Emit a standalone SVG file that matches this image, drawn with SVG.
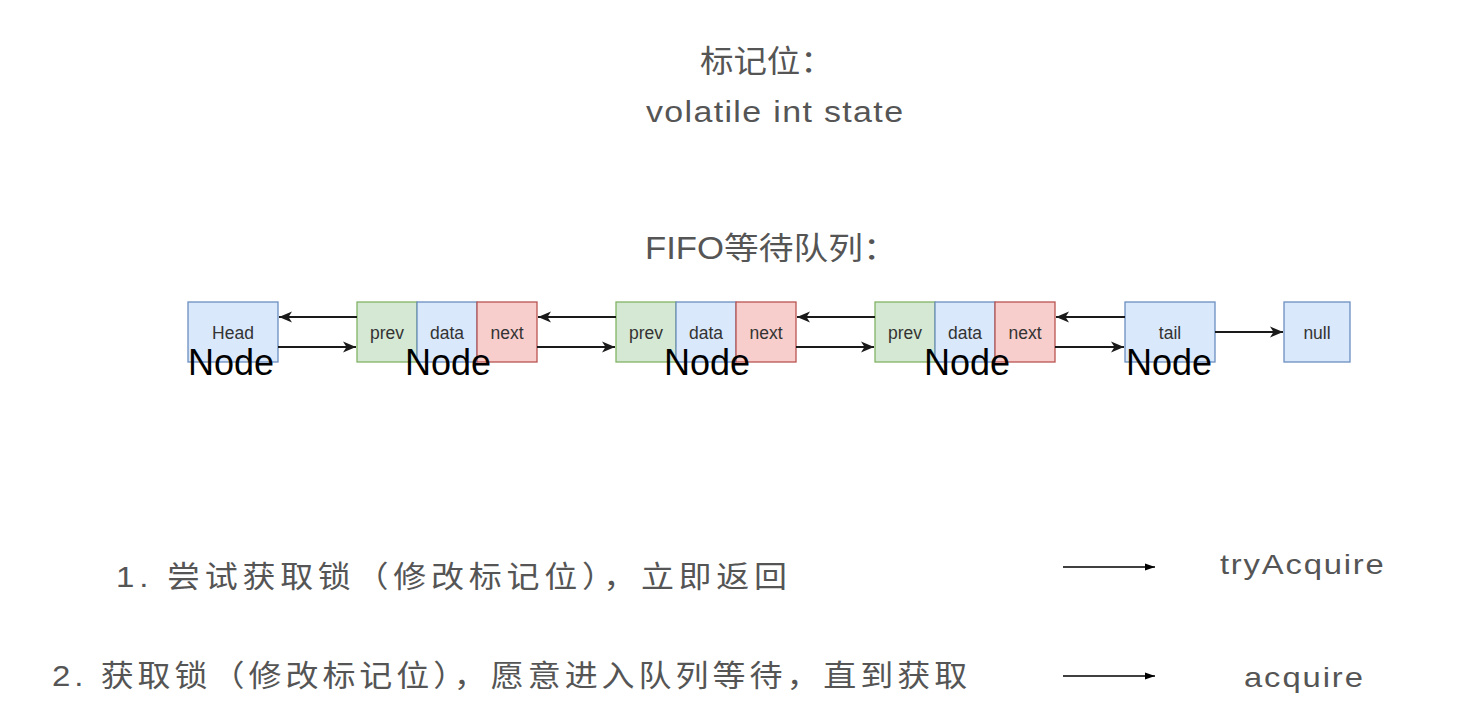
<svg xmlns="http://www.w3.org/2000/svg" width="1472" height="718" viewBox="0 0 1472 718">
  <defs>
    <style>
      .blue { fill: #dae8fc; stroke: #6c8ebf; stroke-width: 1.3; }
      .green { fill: #d5e8d4; stroke: #82b366; stroke-width: 1.3; }
      .red { fill: #f8cecc; stroke: #b85450; stroke-width: 1.3; }
      .cell { font-family: "Liberation Sans", Arial, sans-serif; font-size: 17.5px; fill: #333333; text-anchor: middle; }
      .big { font-family: "Liberation Sans", Arial, sans-serif; font-size: 36px; fill: #000000; text-anchor: middle; }
      .gray { font-family: "Liberation Sans", "Noto Sans CJK SC", sans-serif; fill: #555555; }
      .conn { stroke: #1a1a1a; stroke-width: 1.8; fill: none; marker-end: url(#arr); }
      .thin { stroke: #000000; stroke-width: 1.4; fill: none; marker-end: url(#arrSmall); }
    </style>
    <marker id="arr" viewBox="0 0 14 12" refX="13" refY="6" markerWidth="14" markerHeight="12" markerUnits="userSpaceOnUse" orient="auto">
      <path d="M0,0.5 L13,6 L0,11.5 L3.5,6 Z" fill="#1a1a1a"/>
    </marker>
    <marker id="arrSmall" viewBox="0 0 10 8" refX="10" refY="4" markerWidth="10" markerHeight="8" markerUnits="userSpaceOnUse" orient="auto">
      <path d="M0,0.5 L10,4 L0,7.5 Z" fill="#000000"/>
    </marker>
  </defs>
  <rect x="0" y="0" width="1472" height="718" fill="#ffffff"/>

  <g id="titles">
    <text class="gray" font-size="31" transform="scale(1.08 1)" x="648.1" y="72">标记位：</text>
    <text class="gray" font-size="29" transform="scale(1.17 1)" x="552.1" y="122" textLength="219.7" lengthAdjust="spacing">volatile int state</text>
    <text class="gray" font-size="31" transform="scale(1.12 1)" x="575.9" y="259">FIFO等待队列：</text>
  </g>

  <g id="head">
    <rect class="blue" x="188" y="302" width="90" height="60"/>
    <text class="cell" x="233" y="339">Head</text>
    <text class="big" x="231" y="375">Node</text>
  </g>

  <g id="node1">
    <rect class="green" x="357" y="302" width="60" height="60"/>
    <rect class="blue" x="417" y="302" width="60" height="60"/>
    <rect class="red" x="477" y="302" width="60" height="60"/>
    <text class="cell" x="387" y="339">prev</text>
    <text class="cell" x="447" y="339">data</text>
    <text class="cell" x="507" y="339">next</text>
    <text class="big" x="448" y="375">Node</text>
  </g>

  <g id="node2">
    <rect class="green" x="616" y="302" width="60" height="60"/>
    <rect class="blue" x="676" y="302" width="60" height="60"/>
    <rect class="red" x="736" y="302" width="60" height="60"/>
    <text class="cell" x="646" y="339">prev</text>
    <text class="cell" x="706" y="339">data</text>
    <text class="cell" x="766" y="339">next</text>
    <text class="big" x="707" y="375">Node</text>
  </g>

  <g id="node3">
    <rect class="green" x="875" y="302" width="60" height="60"/>
    <rect class="blue" x="935" y="302" width="60" height="60"/>
    <rect class="red" x="995" y="302" width="60" height="60"/>
    <text class="cell" x="905" y="339">prev</text>
    <text class="cell" x="965" y="339">data</text>
    <text class="cell" x="1025" y="339">next</text>
    <text class="big" x="967" y="375">Node</text>
  </g>

  <g id="tail">
    <rect class="blue" x="1125" y="302" width="90" height="60"/>
    <text class="cell" x="1170" y="339">tail</text>
    <text class="big" x="1169" y="375">Node</text>
  </g>

  <g id="null">
    <rect class="blue" x="1284" y="302" width="66" height="60"/>
    <text class="cell" x="1317" y="339">null</text>
  </g>

  <g id="connectors">
    <line class="conn" x1="357" y1="317" x2="279" y2="317"/>
    <line class="conn" x1="278" y1="347" x2="356" y2="347"/>
    <line class="conn" x1="616" y1="317" x2="538" y2="317"/>
    <line class="conn" x1="537" y1="347" x2="615" y2="347"/>
    <line class="conn" x1="875" y1="317" x2="797" y2="317"/>
    <line class="conn" x1="796" y1="347" x2="874" y2="347"/>
    <line class="conn" x1="1125" y1="317" x2="1056" y2="317"/>
    <line class="conn" x1="1055" y1="347" x2="1124" y2="347"/>
    <line class="conn" x1="1215" y1="332" x2="1283" y2="332"/>
    <line class="thin" x1="1063" y1="567" x2="1155" y2="567"/>
    <line class="thin" x1="1063" y1="676" x2="1155" y2="676"/>
  </g>

  <g id="legend">
    <text class="gray" font-size="30" transform="scale(1.1 1)" x="105.5" y="587" textLength="610" lengthAdjust="spacing">1. 尝试获取锁（修改标记位），立即返回</text>
    <text class="gray" font-size="30" transform="scale(1.1 1)" x="47.3" y="686" textLength="832" lengthAdjust="spacing">2. 获取锁（修改标记位），愿意进入队列等待，直到获取</text>
    <text class="gray" font-size="28" transform="scale(1.17 1)" x="1042.7" y="574" textLength="140" lengthAdjust="spacing">tryAcquire</text>
    <text class="gray" font-size="28" transform="scale(1.17 1)" x="1063.2" y="687" textLength="101.7" lengthAdjust="spacing">acquire</text>
  </g>
</svg>
